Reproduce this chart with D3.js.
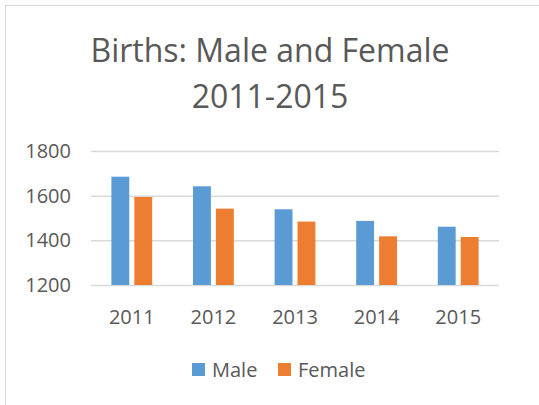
<!DOCTYPE html>
<html>
<head>
<meta charset="utf-8">
<script src="https://cdn.jsdelivr.net/npm/d3@7"></script>
<style>
  html, body { margin: 0; padding: 0; background: #fff; }
  svg { display: block; }
  text { font-family: "Open Sans", sans-serif; fill: #595959; }
</style>
</head>
<body>
<svg id="chart" width="539" height="405"></svg>
<script>
const years = ["2011", "2012", "2013", "2014", "2015"];
const seriesNames = ["Male", "Female"];
const maleValues = [1685, 1642, 1539, 1487, 1461];
const femaleValues = [1594, 1542, 1484, 1418, 1415];
const yTicks = [1200, 1400, 1600, 1800];
const titleLines = ["Births: Male and Female", "2011-2015"];
const colors = ["#5B9BD5", "#ED7D31"];

const svg = d3.select("#chart");
const W = 539, H = 405;

// chart area border
svg.append("rect").attr("x", 5.5).attr("y", 5.5).attr("width", W + 10).attr("height", H + 10)
  .attr("fill", "none").attr("stroke", "#D9D9D9").attr("stroke-width", 1);

const plot = { left: 91, right: 499, top: 151, bottom: 285 };

const x0 = d3.scaleBand().domain(years).range([plot.left, plot.right]).paddingInner(0.5).paddingOuter(0.25);
const x1 = d3.scaleBand().domain(seriesNames).range([0, x0.bandwidth()]).paddingInner(0.22);
const y = d3.scaleLinear().domain([1200, 1800]).range([plot.bottom, plot.top]);

// gridlines
const yAxis = d3.axisLeft(y).tickValues(yTicks).tickSize(-(plot.right - plot.left)).tickPadding(20).tickFormat(d3.format("d"));
const gy = svg.append("g").attr("transform", `translate(${plot.left},0)`).call(yAxis);
gy.select(".domain").remove();
gy.selectAll(".tick line").attr("stroke", "#D9D9D9").attr("stroke-width", 1.5);
gy.selectAll(".tick text").attr("font-size", 20).attr("fill", "#595959").attr("font-family", "Open Sans");

// bars
const data = years.map((yr, i) => ({ year: yr, values: [maleValues[i], femaleValues[i]] }));
const groups = svg.append("g").selectAll("g").data(data).join("g")
  .attr("transform", d => `translate(${x0(d.year)},0)`);
groups.selectAll("rect").data(d => d.values.map((v, j) => ({ name: seriesNames[j], v, j })))
  .join("rect")
  .attr("x", d => x1(d.name))
  .attr("width", x1.bandwidth())
  .attr("y", d => y(d.v))
  .attr("height", d => y(1200) - y(d.v))
  .attr("fill", d => colors[d.j]);

// x axis labels
const xAxis = d3.axisBottom(x0).tickSize(0).tickPadding(25);
const gx = svg.append("g").attr("transform", `translate(0,${plot.bottom})`).call(xAxis);
gx.select(".domain").remove();
gx.selectAll(".tick text").attr("font-size", 20).attr("fill", "#595959").attr("font-family", "Open Sans");

// title
svg.append("text").attr("x", 270).attr("y", 62)
  .attr("text-anchor", "middle").attr("font-size", 32).text(titleLines[0]);
svg.append("text").attr("x", 270).attr("y", 108)
  .attr("text-anchor", "middle").attr("font-size", 32).text(titleLines[1]);

// legend
const legendItems = [{ name: seriesNames[0], x: 192 }, { name: seriesNames[1], x: 278 }];
const lg = svg.append("g");
legendItems.forEach((it, i) => {
  lg.append("rect").attr("x", it.x).attr("y", 363).attr("width", 13).attr("height", 13).attr("fill", colors[i]);
  lg.append("text").attr("x", it.x + 20).attr("y", 377).attr("font-size", 20).text(it.name);
});
</script>
</body>
</html>
